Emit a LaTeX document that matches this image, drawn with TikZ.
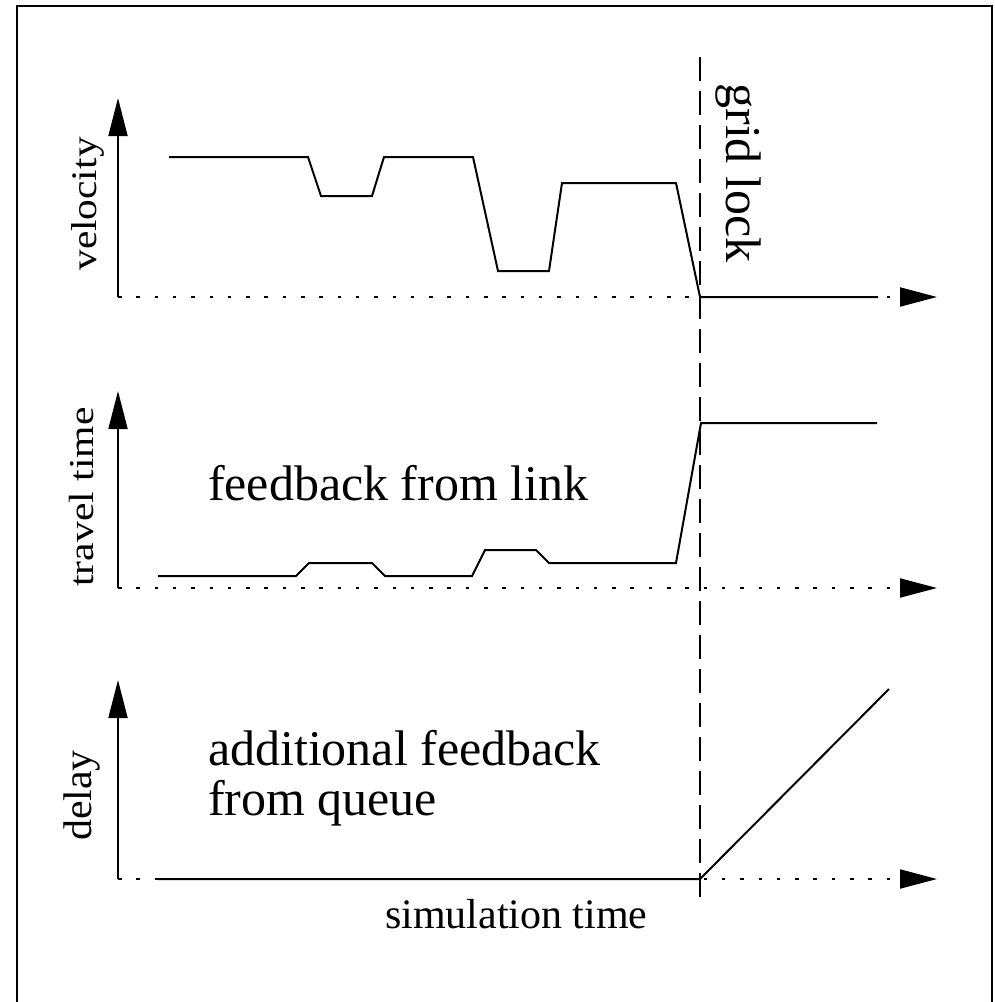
\documentclass[tikz,border=0pt]{standalone}
\usepackage{fontspec}
\setmainfont{Liberation Serif}
\usetikzlibrary{arrows.meta}
\tikzset{
  frameline/.style={line width=2pt},
  curve/.style={line width=2pt, line join=miter},
  dotaxis/.style={line width=2pt, dash pattern=on 3.5pt off 14.8pt, -{Triangle[length=37pt,width=19pt]}},
  yaxis/.style={line width=1.8pt, -{Triangle[length=38pt,width=19pt]}},
  lockline/.style={line width=2pt, dash pattern=on 24pt off 10pt},
  lbl/.style={inner sep=0pt, outer sep=0pt}
}
\begin{document}
\begin{tikzpicture}[x=1pt,y=-1pt]
\useasboundingbox (0,0) rectangle (995,1002);
\draw[frameline] (17,1006) -- (17,5.5) -- (992,5.5) -- (992,1006);

% axes coordinates
\coordinate (vO) at (118,297); \coordinate (vT) at (118,98); \coordinate (vE) at (937,297);
\coordinate (tO) at (118,588); \coordinate (tT) at (118,391); \coordinate (tE) at (937,588);
\coordinate (dO) at (118,879); \coordinate (dT) at (118,680); \coordinate (dE) at (937,879);
\coordinate (gTop) at (700,57); \coordinate (gBot) at (700,900);

% axes
\draw[dotaxis] (vO) -- (vE);
\draw[dotaxis] (tO) -- (tE);
\draw[dotaxis] (dO) -- (dE);
\draw[yaxis] (vO) -- (vT);
\draw[yaxis] (tO) -- (tT);
\draw[yaxis] (dO) -- (dT);

% curves
\draw[curve] (169,157) -- (308,157) -- (321,196) -- (372,196) -- (384,157) -- (473,157)
  -- (498,271) -- (549,271) -- (562,183) -- (676,183) -- (700,297) -- (878,297);
\draw[curve] (158,576) -- (296,576) -- (309,563) -- (372,563) -- (385,576) -- (472,576)
  -- (485,550) -- (536,550) -- (549,563) -- (676,563) -- (701,423) -- (877,423);
\draw[curve] (158,879) -- (700,879) -- (889,689);

% grid lock line
\draw[lockline] (gTop) -- (gBot);

% labels
\node[lbl, rotate=90, font=\fontsize{36}{36}\selectfont] (vel) at (88,204) {\scalebox{1.15}[1]{velocity}};
\node[lbl, rotate=90, font=\fontsize{35}{35}\selectfont] (tt) at (82,497) {\scalebox{1.19}[1]{travel time}};
\node[lbl, rotate=90, font=\fontsize{40}{40}\selectfont] (dl) at (82,795.5) {\scalebox{1.05}[1]{delay}};
\node[lbl, rotate=-90, font=\fontsize{50}{50}\selectfont] (gl) at (738,173) {grid lock};
\node[lbl, anchor=base west, font=\fontsize{50}{50}\selectfont] (fb) at (208,500) {feedback from link};
\node[lbl, anchor=base west, font=\fontsize{50}{50}\selectfont] (add1) at (208,765) {additional feedback};
\node[lbl, anchor=base west, font=\fontsize{50}{50}\selectfont] (add2) at (208,815) {from queue};
\node[lbl, anchor=base west, font=\fontsize{42}{42}\selectfont] (sim) at (385,928) {simulation time};
\end{tikzpicture}
\end{document}
